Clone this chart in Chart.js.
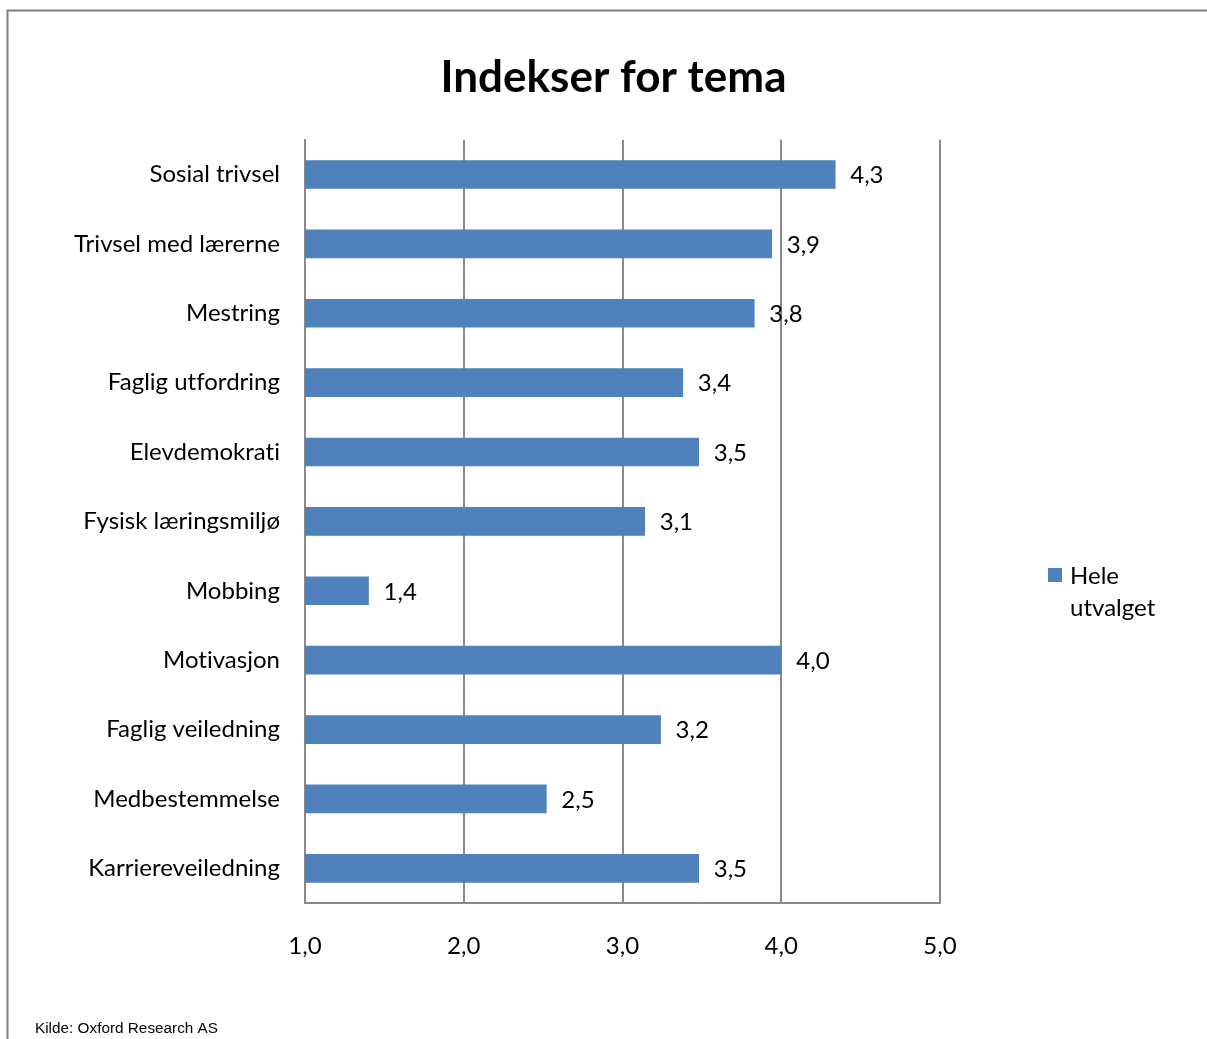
<!DOCTYPE html>
<html>
<head>
<meta charset="utf-8">
<script src="https://cdn.jsdelivr.net/npm/chart.js@4/dist/chart.umd.min.js"></script>
<style>
  html, body { margin: 0; padding: 0; background: #ffffff; }
  #wrap { position: relative; width: 1207px; height: 1039px; }
</style>
</head>
<body>
<div id="wrap"><canvas id="c"></canvas></div>
<script>
const categories = [
  "Sosial trivsel",
  "Trivsel med lærerne",
  "Mestring",
  "Faglig utfordring",
  "Elevdemokrati",
  "Fysisk læringsmiljø",
  "Mobbing",
  "Motivasjon",
  "Faglig veiledning",
  "Medbestemmelse",
  "Karriereveiledning"
];
const values = [4.34, 3.94, 3.83, 3.38, 3.48, 3.14, 1.40, 4.0, 3.24, 2.52, 3.48];
const seriesName = ["Hele", "utvalget"];
const xTicks = [1, 2, 3, 4, 5];
const titleText = "Indekser for tema";
const sourceText = "Kilde: Oxford Research AS";

const FONT = "Lato, 'Open Sans', sans-serif";
const BAR = "#4F81BD";
const GRID = "#8a8a8a";

const fmt = v => v.toFixed(1).replace(".", ",");

const noLig = {
  id: "noLig",
  beforeDraw(chart) {
    const ctx = chart.ctx;
    try { ctx.letterSpacing = "0.01px"; } catch (e) {}
    try { ctx.textRendering = "optimizeSpeed"; } catch (e) {}
  }
};

const extras = {
  id: "extras",
  afterDraw(chart) {
    const ctx = chart.ctx;
    ctx.save();
    // frame
    ctx.strokeStyle = "#7f7f7f";
    ctx.lineWidth = 2;
    ctx.beginPath();
    ctx.moveTo(1207, 10.5);
    ctx.lineTo(7.5, 10.5);
    ctx.lineTo(7.5, 1039);
    ctx.stroke();
    // data labels
    const meta = chart.getDatasetMeta(0);
    ctx.fillStyle = "#000";
    ctx.font = "24px " + FONT;
    ctx.textAlign = "left";
    ctx.textBaseline = "middle";
    meta.data.forEach((el, i) => {
      ctx.fillText(fmt(values[i]), el.x + 15, el.y + 1);
    });
    // legend
    ctx.fillStyle = BAR;
    ctx.fillRect(1048, 568, 14, 14);
    ctx.fillStyle = "#000";
    ctx.fillText(seriesName[0], 1070, 576);
    ctx.fillText(seriesName[1], 1070, 608);
    // source
    ctx.font = "15.3px 'Liberation Sans', Arial, sans-serif";
    ctx.fillText(sourceText, 35, 1029);
    ctx.restore();
  }
};

new Chart(document.getElementById("c"), {
  type: "bar",
  data: {
    labels: categories,
    datasets: [{
      label: seriesName.join(" "),
      data: values,
      backgroundColor: BAR,
      borderWidth: 0,
      barThickness: 28
    }]
  },
  options: {
    indexAxis: "y",
    responsive: true,
    maintainAspectRatio: false,
    animation: false,
    layout: { padding: { left: 20, right: 0, top: 0, bottom: 0 } },
    plugins: {
      legend: { display: false },
      tooltip: { enabled: false },
      title: {
        display: true,
        text: titleText,
        color: "#000",
        font: { family: FONT, size: 44, weight: "bold", lineHeight: 1.2 },
        padding: { top: 51, bottom: 36 }
      }
    },
    scales: {
      x: {
        min: 1, max: 5,
        position: "bottom",
        afterFit(s) { s.height = 136; },
        ticks: {
          stepSize: 1,
          color: "#000",
          font: { family: FONT, size: 24 },
          padding: 29,
          callback: v => fmt(v)
        },
        grid: { color: GRID, lineWidth: 2, drawTicks: false },
        border: { display: true, color: GRID, width: 2 }
      },
      y: {
        position: "left",
        afterFit(s) { s.width = 285; },
        ticks: {
          color: "#000",
          font: { family: FONT, size: 24 },
          padding: 25,
          autoSkip: false
        },
        grid: { display: false, drawTicks: false },
        border: { display: true, color: GRID, width: 2 }
      },
      yr: {
        type: "linear",
        position: "right",
        display: true,
        afterFit(s) { s.width = 267; },
        ticks: { display: false },
        grid: { display: false, drawTicks: false },
        border: { display: false }
      }
    }
  },
  plugins: [noLig, extras]
});
</script>
</body>
</html>
